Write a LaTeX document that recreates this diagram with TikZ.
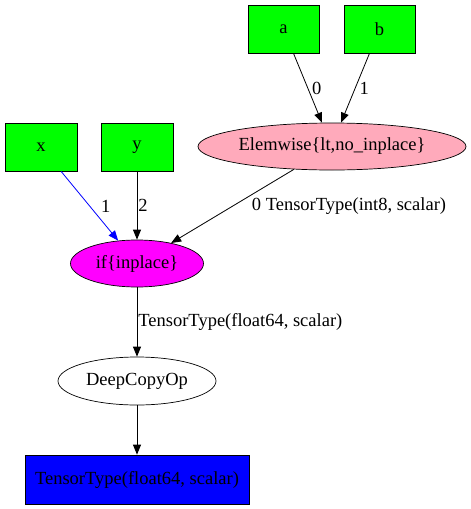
\documentclass[tikz,border=0pt]{standalone}
\usepackage{fontspec}
\setmainfont{Liberation Serif}
\usepackage{tikz}
\usetikzlibrary{arrows.meta, shapes.geometric}
\tikzset{
  gvarrow/.style={-{Triangle[length=10pt,width=8pt]}, line width=0.8pt},
  invar/.style={draw, line width=0.7pt, fill=inputgreen, minimum width=71pt, minimum height=48pt, inner sep=0pt},
  applynode/.style={draw, ellipse, line width=0.7pt, inner sep=0pt},
  edgelbl/.style={anchor=west, inner sep=1pt}
}
\definecolor{inputgreen}{HTML}{00FF00}
\definecolor{elempink}{HTML}{FFAABB}
\definecolor{ifmagenta}{HTML}{FF00FF}
\definecolor{outblue}{HTML}{0000FF}

\begin{document}
\begin{tikzpicture}[x=1pt, y=-1pt, font=\fontsize{18.5}{20}\selectfont]
\useasboundingbox (0,0) rectangle (471,509);
% inputs
\node[invar] (a) at (283.5,29) {a};
\node[invar] (b) at (379.5,29) {b};
\node[invar, minimum width=72pt] (x) at (41,147) {x};
\node[invar, minimum width=72pt] (y) at (137,147) {y};
% apply nodes
\node[applynode, fill=elempink, minimum width=268pt, minimum height=47pt] (elem) at (332,146.5) {Elemwise\{lt,no\_inplace\}};
\node[applynode, fill=ifmagenta, minimum width=133pt, minimum height=47pt] (ifop) at (137,263.5) {if\{inplace\}};
\node[applynode, fill=white, minimum width=158pt, minimum height=48pt] (copy) at (137,381) {DeepCopyOp};
% output
\node[draw, line width=0.7pt, fill=outblue, minimum width=224pt, minimum height=49pt, inner sep=0pt] (out) at (137,479.5) {TensorType(float64, scalar)};
% edges
\draw[gvarrow] (a) -- (elem.north -| 322,0) node[edgelbl, pos=0.5, xshift=3pt]{0};
\draw[gvarrow] (b) -- (elem.north -| 341,0) node[edgelbl, pos=0.5, xshift=3pt]{1};
\draw[gvarrow, outblue] (x) -- (ifop) node[edgelbl, black, pos=0.5, xshift=10pt]{1};
\draw[gvarrow] (y) -- (ifop) node[edgelbl, pos=0.5]{2};
\draw[gvarrow] (elem) -- (ifop) node[edgelbl, pos=0.5, xshift=18pt]{0 TensorType(int8, scalar)};
\draw[gvarrow] (ifop) -- (copy) node[edgelbl, pos=0.5]{TensorType(float64, scalar)};
\draw[gvarrow] (copy) -- (out);
\end{tikzpicture}
\end{document}
